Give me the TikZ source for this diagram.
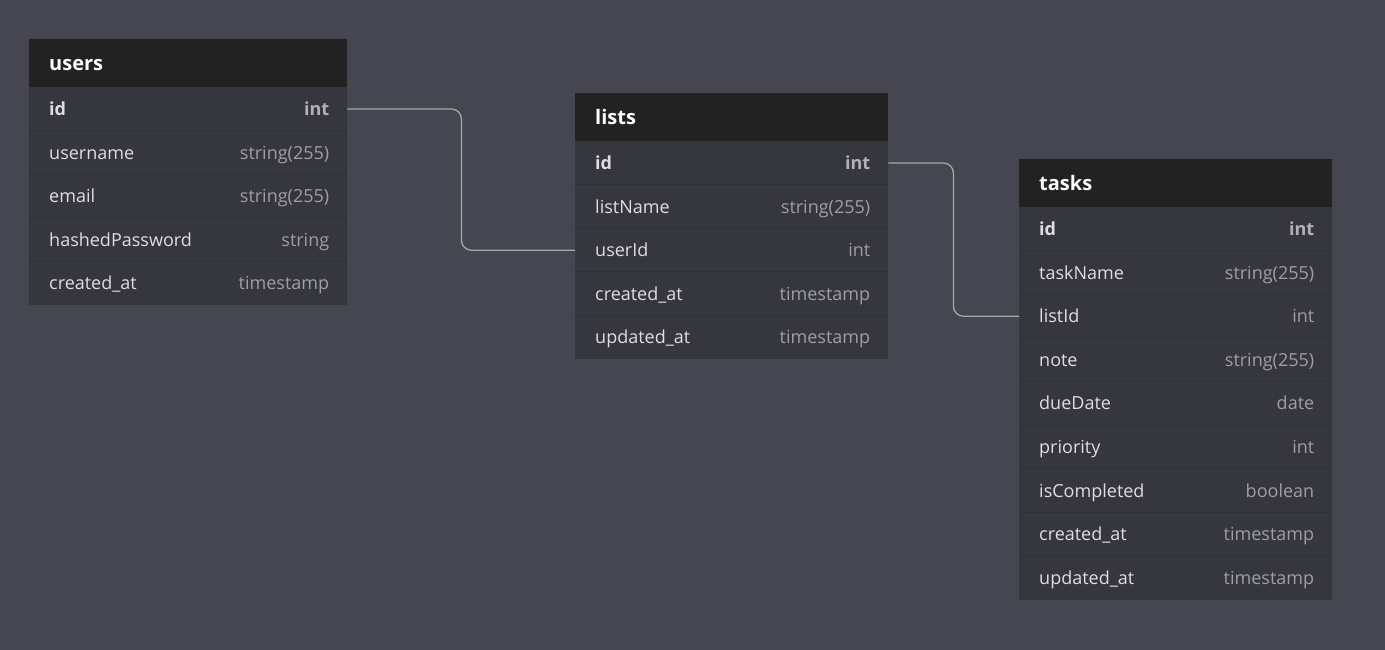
\documentclass[tikz,border=0pt]{standalone}
\usepackage{fontspec}
\setmainfont{Open Sans}
\usetikzlibrary{positioning}

\definecolor{canvas}{RGB}{69,70,79}
\definecolor{rowfill}{RGB}{53,54,62}
\definecolor{headfill}{RGB}{34,34,34}
\definecolor{rowline}{RGB}{47,48,56}
\definecolor{fieldcol}{RGB}{222,222,226}
\definecolor{typecol}{RGB}{158,158,164}
\definecolor{relcol}{RGB}{165,166,174}

% one table: name, x, y, width, rows
\newcommand\dbtable[5]{%
  \node[headbox, minimum width=#4] (#1) at (#2,#3) {};
  \node[headtxt] at ([xshift=20, yshift=-2]#1.west) {#1};
  \foreach \fname/\ftype [count=\i] in {#5} {
    \node[rowbox, minimum width=#4] (#1-\i) at (#2,#3+48+43.6*\i-43.6) {};
    \ifnum\i>1 \draw[rowline] (#1-\i.north west) -- (#1-\i.north east); \fi
    \ifnum\i=1
      \node[fieldtxt, font=\fontsize{18}{21}\selectfont\bfseries] at ([xshift=20, yshift=-2]#1-\i.west) {\fname};
      \node[typetxt, font=\fontsize{18}{21}\selectfont\bfseries, text=typecol!80!white] at ([xshift=-18, yshift=-2]#1-\i.east) {\ftype};
    \else
      \node[fieldtxt] at ([xshift=20, yshift=-2]#1-\i.west) {\fname};
      \node[typetxt] at ([xshift=-18, yshift=-2]#1-\i.east) {\ftype};
    \fi
  }%
}

\begin{document}
\begin{tikzpicture}[x=1pt,y=-1pt,
    headbox/.style={anchor=north west, fill=headfill, minimum height=48, inner sep=0},
    rowbox/.style={anchor=north west, fill=rowfill, minimum height=43.6, inner sep=0},
    headtxt/.style={anchor=west, text=white, font=\fontsize{20}{24}\selectfont\bfseries,
      inner sep=0, text height=14, text depth=4},
    fieldtxt/.style={anchor=west, text=fieldcol, font=\fontsize{18}{21}\selectfont,
      inner sep=0, text height=13, text depth=4},
    typetxt/.style={anchor=east, text=typecol, font=\fontsize{18}{21}\selectfont,
      inner sep=0, text height=13, text depth=4},
    rowline/.style={draw=rowline, line width=0.8},
    rel/.style={draw=relcol, line width=1.3, rounded corners=10}]

  \fill[canvas] (0,0) rectangle (1385,650);

  \dbtable{users}{29}{39}{318}{id/int, username/string(255), email/string(255),
    hashedPassword/string, created\_at/timestamp}
  \dbtable{lists}{575}{93}{313}{id/int, listName/string(255), userId/int,
    created\_at/timestamp, updated\_at/timestamp}
  \dbtable{tasks}{1019}{159}{313}{id/int, taskName/string(255), listId/int,
    note/string(255), dueDate/date, priority/int, isCompleted/boolean,
    created\_at/timestamp, updated\_at/timestamp}

  % relations
  \draw[rel] (users-1.east) -- ++(114,0) |- (lists-3.west);
  \draw[rel] (lists-1.east) -- ++(65,0) |- (tasks-3.west);
\end{tikzpicture}
\end{document}
